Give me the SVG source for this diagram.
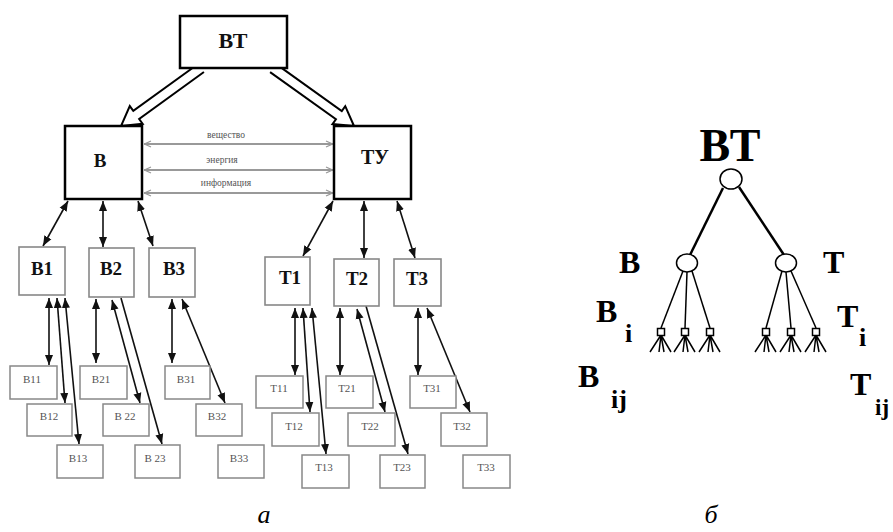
<svg xmlns="http://www.w3.org/2000/svg" width="893" height="532" viewBox="0 0 893 532">
<style>
.main{fill:#fff;stroke:#000;stroke-width:2.5}
.lvl1{fill:#fff;stroke:#888;stroke-width:1.6}
.sub{fill:#fff;stroke:#888;stroke-width:1.5}
.t1{font-family:"Liberation Serif","Times New Roman",serif;font-weight:bold;fill:#111;text-anchor:middle}
.ts{font-family:"Liberation Serif","Times New Roman",serif;font-size:11px;fill:#555;text-anchor:middle}
.tf{font-family:"Liberation Serif","Times New Roman",serif;font-size:9.5px;fill:#555;text-anchor:middle}
.ar{stroke:#111;stroke-width:1.6;fill:none;marker-end:url(#ah)}
.dar{stroke:#111;stroke-width:1.6;fill:none;marker-start:url(#ah);marker-end:url(#ah)}
.hr{stroke:#999;stroke-width:2;fill:none;marker-start:url(#oh);marker-end:url(#oh)}
.hol{fill:#fff;stroke:#000;stroke-width:2}
.tb{font-family:"Liberation Serif","Times New Roman",serif;font-weight:bold;fill:#000}
.tree{stroke:#000;fill:none}
.nd{fill:#fff;stroke:#000;stroke-width:1.5}
.cap{font-family:"Liberation Serif","Times New Roman",serif;font-style:italic;font-size:26px;fill:#000;text-anchor:middle}
</style>
<defs>
<marker id="ah" markerUnits="userSpaceOnUse" markerWidth="10" markerHeight="10" viewBox="0 0 10 10" refX="10" refY="5" orient="auto-start-reverse">
<path d="M0,1 L10,5 L0,9 Z" fill="#111"/>
</marker>
<marker id="oh" markerUnits="userSpaceOnUse" markerWidth="8" markerHeight="8" viewBox="0 0 8 8" refX="8" refY="4" orient="auto-start-reverse">
<path d="M1,1 L7.5,4 L1,7" fill="none" stroke="#999" stroke-width="1.2"/>
</marker>
</defs>
<rect width="893" height="532" fill="#fff"/>

<g id="connectors">
<path class="hol" d="M0,-5 H80 V-11 L98.8,0 L80,11 V5 H0" transform="translate(201,68) rotate(144.06)"/>
<path class="hol" d="M0,-5 H81 V-11 L99.6,0 L81,11 V5 H0" transform="translate(273,68) rotate(35.6)"/>
<line class="hr" x1="144" y1="144" x2="333" y2="144"/>
<line class="hr" x1="144" y1="170" x2="333" y2="170"/>
<line class="hr" x1="144" y1="193" x2="333" y2="193"/>
<line class="dar" x1="68" y1="201" x2="43" y2="246"/>
<line class="dar" x1="103" y1="201" x2="103" y2="247"/>
<line class="dar" x1="138" y1="201" x2="153" y2="246"/>
<line class="dar" x1="333" y1="201" x2="303" y2="256"/>
<line class="dar" x1="364" y1="201" x2="364" y2="258"/>
<line class="dar" x1="397" y1="201" x2="415" y2="258"/>
<line class="dar" x1="49" y1="298" x2="49" y2="365" stroke-width="2.2"/>
<line class="dar" x1="57" y1="298" x2="65" y2="403"/>
<line class="dar" x1="65" y1="298" x2="79" y2="444"/>
<line class="dar" x1="96" y1="299" x2="96" y2="363"/>
<line class="dar" x1="112" y1="300" x2="140" y2="403"/>
<line class="ar" x1="121" y1="298" x2="162" y2="444"/>
<line class="dar" x1="172" y1="299" x2="172" y2="363"/>
<line class="dar" x1="182" y1="299" x2="225" y2="403"/>
<line class="dar" x1="295" y1="308" x2="295" y2="375" stroke-width="2.2"/>
<line class="dar" x1="303" y1="308" x2="310" y2="412"/>
<line class="dar" x1="312" y1="308" x2="326" y2="454"/>
<line class="dar" x1="340" y1="308" x2="340" y2="375"/>
<line class="dar" x1="357" y1="309" x2="385" y2="412"/>
<line class="ar" x1="366" y1="306" x2="408" y2="454"/>
<line class="dar" x1="418" y1="308" x2="418" y2="375"/>
<line class="dar" x1="427" y1="308" x2="470" y2="412"/>
</g>

<g id="flow-labels">
<text class="tf" x="226" y="138">вещество</text>
<text class="tf" x="222" y="163">энергия</text>
<text class="tf" x="226" y="186">информация</text>
</g>

<g id="node-VT"><rect class="main" x="180" y="16" width="107" height="52"/><text class="t1" x="233" y="48" font-size="22">ВТ</text></g>
<g id="node-V"><rect class="main" x="65" y="126" width="77" height="73"/><text class="t1" x="100" y="167" font-size="19">В</text></g>
<g id="node-TU"><rect class="main" x="334" y="126" width="77" height="73"/><text class="t1" x="375" y="164" font-size="20">ТУ</text></g>

<g id="node-V1"><rect class="lvl1" x="19" y="247" width="46" height="48"/><text class="t1" x="42" y="275" font-size="19">В1</text></g>
<g id="node-V2"><rect class="lvl1" x="89" y="248" width="45" height="49"/><text class="t1" x="111" y="275" font-size="19">В2</text></g>
<g id="node-V3"><rect class="lvl1" x="149" y="248" width="46" height="49"/><text class="t1" x="174" y="275" font-size="19">В3</text></g>
<g id="node-T1"><rect class="lvl1" x="265" y="257" width="45" height="48"/><text class="t1" x="290" y="284" font-size="19">Т1</text></g>
<g id="node-T2"><rect class="lvl1" x="334" y="259" width="45" height="47"/><text class="t1" x="357" y="285" font-size="19">Т2</text></g>
<g id="node-T3"><rect class="lvl1" x="394" y="259" width="47" height="47"/><text class="t1" x="417" y="285" font-size="19">Т3</text></g>

<g id="node-V11"><rect class="sub" x="10" y="366" width="47" height="33"/><text class="ts" x="32" y="383">В11</text></g>
<g id="node-V12"><rect class="sub" x="27" y="404" width="45" height="32"/><text class="ts" x="49" y="420">В12</text></g>
<g id="node-V13"><rect class="sub" x="57" y="445" width="46" height="33"/><text class="ts" x="78" y="462">В13</text></g>
<g id="node-V21"><rect class="sub" x="80" y="366" width="47" height="33"/><text class="ts" x="101" y="383">В21</text></g>
<g id="node-V22"><rect class="sub" x="103" y="404" width="46" height="32"/><text class="ts" x="125" y="420">В 22</text></g>
<g id="node-V23"><rect class="sub" x="135" y="445" width="45" height="33"/><text class="ts" x="155" y="462">В 23</text></g>
<g id="node-V31"><rect class="sub" x="165" y="366" width="45" height="33"/><text class="ts" x="186" y="383">В31</text></g>
<g id="node-V32"><rect class="sub" x="196" y="404" width="46" height="32"/><text class="ts" x="217" y="420">В32</text></g>
<g id="node-V33"><rect class="sub" x="218" y="445" width="46" height="33"/><text class="ts" x="239" y="462">В33</text></g>
<g id="node-T11"><rect class="sub" x="256" y="376" width="47" height="32"/><text class="ts" x="279" y="392">Т11</text></g>
<g id="node-T12"><rect class="sub" x="272" y="413" width="47" height="33"/><text class="ts" x="294" y="430">Т12</text></g>
<g id="node-T13"><rect class="sub" x="302" y="455" width="47" height="33"/><text class="ts" x="324" y="471">Т13</text></g>
<g id="node-T21"><rect class="sub" x="326" y="376" width="47" height="32"/><text class="ts" x="347" y="392">Т21</text></g>
<g id="node-T22"><rect class="sub" x="348" y="413" width="47" height="33"/><text class="ts" x="370" y="430">Т22</text></g>
<g id="node-T23"><rect class="sub" x="380" y="455" width="45" height="33"/><text class="ts" x="402" y="471">Т23</text></g>
<g id="node-T31"><rect class="sub" x="410" y="376" width="46" height="32"/><text class="ts" x="432" y="392">Т31</text></g>
<g id="node-T32"><rect class="sub" x="441" y="413" width="46" height="33"/><text class="ts" x="462" y="430">Т32</text></g>
<g id="node-T33"><rect class="sub" x="463" y="455" width="47" height="33"/><text class="ts" x="486" y="471">Т33</text></g>

<text class="cap" x="264" y="523">а</text>

<g id="tree-b">
<g id="tree-edges" class="tree">
<line x1="723" y1="188" x2="690" y2="255" stroke-width="2.5"/>
<line x1="739" y1="187" x2="784" y2="255" stroke-width="2.5"/>
<g stroke-width="1.5">
<line x1="683" y1="271" x2="661" y2="328"/>
<line x1="687" y1="272" x2="685" y2="328"/>
<line x1="692" y1="271" x2="710" y2="328"/>
<line x1="782" y1="271" x2="766" y2="328"/>
<line x1="786" y1="272" x2="791" y2="328"/>
<line x1="791" y1="271" x2="816" y2="328"/>
<path d="M661,335 L650,352 M661,335 L659,352 M661,335 L664,352 M661,335 L671,352"/>
<path d="M685,335 L674,352 M685,335 L683,352 M685,335 L688,352 M685,335 L695,352"/>
<path d="M710,335 L699,352 M710,335 L708,352 M710,335 L713,352 M710,335 L720,352"/>
<path d="M766,335 L755,352 M766,335 L764,352 M766,335 L769,352 M766,335 L776,352"/>
<path d="M791,335 L780,352 M791,335 L789,352 M791,335 L794,352 M791,335 L801,352"/>
<path d="M816,335 L805,352 M816,335 L814,352 M816,335 L819,352 M816,335 L826,352"/>
</g>
</g>
<g id="tree-root"><ellipse class="nd" cx="731" cy="179" rx="11" ry="10"/></g>
<g id="tree-B"><ellipse class="nd" cx="687" cy="263" rx="10.5" ry="9"/></g>
<g id="tree-T"><ellipse class="nd" cx="786" cy="263" rx="10.5" ry="9"/></g>
<g id="tree-leaves">
<rect class="nd" x="657.5" y="328.5" width="7" height="7"/>
<rect class="nd" x="681.5" y="328.5" width="7" height="7"/>
<rect class="nd" x="706.5" y="328.5" width="7" height="7"/>
<rect class="nd" x="762.5" y="328.5" width="7" height="7"/>
<rect class="nd" x="787.5" y="328.5" width="7" height="7"/>
<rect class="nd" x="812.5" y="328.5" width="7" height="7"/>
</g>
<g id="tree-labels">
<text class="tb" x="730" y="161" font-size="46" text-anchor="middle">ВТ</text>
<text class="tb" x="619" y="273" font-size="32">В</text>
<text class="tb" x="823" y="273" font-size="32">Т</text>
<text class="tb" x="596" y="322" font-size="32">В</text>
<text class="tb" x="625" y="342" font-size="26">i</text>
<text class="tb" x="837" y="327" font-size="32">Т</text>
<text class="tb" x="859" y="346" font-size="26">i</text>
<text class="tb" x="578" y="387" font-size="32">В</text>
<text class="tb" x="611" y="408" font-size="26">ij</text>
<text class="tb" x="850" y="395" font-size="32">Т</text>
<text class="tb" x="875" y="415" font-size="23">ij</text>
</g>
</g>

<text class="cap" x="711" y="523">б</text>
</svg>
